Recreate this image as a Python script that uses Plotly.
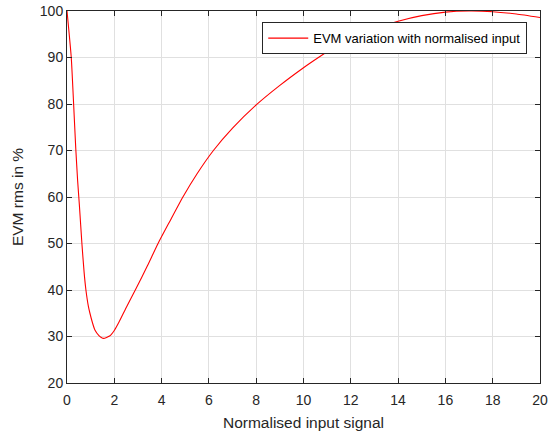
import plotly.graph_objects as go

# Data
x_signal = [0, 0.18, 0.28, 0.37, 0.45, 0.52, 0.63, 0.72, 0.8, 0.9, 0.97, 1.08, 1.18,
            1.35, 1.45, 1.55, 1.8, 2.0, 2.2, 2.5, 2.92, 3.4, 3.85, 4.35, 4.9, 5.5,
            6.19, 7, 8, 9, 10, 10.63, 11.3, 12, 13, 14, 15, 16, 17, 18, 19, 20]
evm_rms = [100, 90, 80, 70.5, 63.5, 58.5, 50, 44, 40, 36.6, 35, 32.9, 31.4,
           30.2, 29.8, 29.6, 30.1, 31.3, 33.1, 36.2, 40.3, 45.2, 50, 54.8, 60, 65,
           70, 74.8, 79.8, 84, 87.8, 90, 92.2, 94, 96.2, 97.8, 99, 99.75, 100, 99.85, 99.35, 98.6]

x_ticks = [0, 2, 4, 6, 8, 10, 12, 14, 16, 18, 20]
y_ticks = [20, 30, 40, 50, 60, 70, 80, 90, 100]

font_family = "Liberation Sans, Arial, Helvetica, sans-serif"
ink = "#262626"

fig = go.Figure()
fig.add_trace(go.Scatter(
    x=x_signal, y=evm_rms, mode="lines",
    line=dict(color="#ff0000", width=1.1, shape="spline", smoothing=0.5),
    name="EVM variation with normalised input",
))

axis_common = dict(
    showgrid=True, gridcolor="#e0e0e0", gridwidth=1,
    showline=True, linecolor=ink, linewidth=1, mirror="ticks",
    ticks="inside", ticklen=5, tickcolor=ink, tickwidth=1,
    zeroline=False,
    tickfont=dict(family=font_family, size=14, color=ink),
)

fig.update_xaxes(
    range=[0, 20], tickvals=x_ticks, ticktext=[str(v) for v in x_ticks],
    ticklabelstandoff=4,
    title=dict(text="Normalised input signal", font=dict(family=font_family, size=15.5, color=ink), standoff=10),
    **axis_common,
)
fig.update_yaxes(
    range=[20, 100], tickvals=y_ticks, ticktext=[str(v) for v in y_ticks],
    title=dict(text="EVM rms in %", font=dict(family=font_family, size=15.5, color=ink), standoff=12),
    **axis_common,
)

fig.update_layout(
    width=552, height=435,
    margin=dict(l=67, r=12, t=11, b=52, autoexpand=False),
    paper_bgcolor="white", plot_bgcolor="white",
    showlegend=True,
    legend=dict(
        x=0.973, y=0.970, xanchor="right", yanchor="top",
        bgcolor="white", bordercolor=ink, borderwidth=1,
        font=dict(family=font_family, size=13, color="#000000"),
        itemwidth=40, tracegroupgap=0,
    ),
)

fig.write_html(
    "out.html",
    config={"displayModeBar": False},
    post_script="document.body.style.margin='0px'; document.body.style.overflow='hidden';",
)
